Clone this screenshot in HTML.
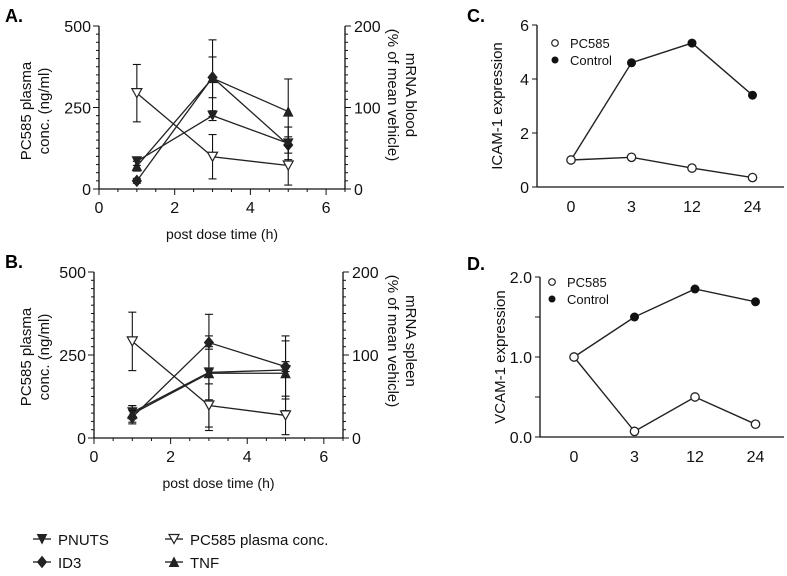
<!DOCTYPE html>
<html><head><meta charset="utf-8">
<style>
body{margin:0;background:#fff;}
svg{display:block;font-family:"Liberation Sans",Arial,sans-serif;}
</style></head>
<body>
<svg id="fig" width="787" height="576" viewBox="0 0 787 576" xmlns="http://www.w3.org/2000/svg">
<g id="static">
<text x="5" y="22" font-size="18" font-weight="bold">A.</text>
<text x="5" y="268" font-size="18" font-weight="bold">B.</text>
<text x="467" y="22" font-size="18" font-weight="bold">C.</text>
<text x="467" y="270" font-size="18" font-weight="bold">D.</text>
</g>
</svg>
<script>
// ---------- data ----------
var timesAB = [1, 3, 5];
var pcA = [294, 99, 72];        var pcAErr = [88, 68, 60];
var id3A = [10, 137, 54];       var id3AErr = [3, 25, 10];
var pnutsA = [34, 90, 56];      var pnutsAErr = [5, 6, 20];
var tnfA = [28, 136, 95];       var tnfAErr = [6, 47, 40];
var pcB = [291, 98, 68];        var pcBErr = [88, 65, 58];
var id3B = [25, 115, 86];       var id3BErr = [8, 8, 6];
var pnutsB = [31, 79, 82];      var pnutsBErr = [8, 70, 35];
var tnfB = [29, 78, 78];        var tnfBErr = [10, 32, 45];
var leftTicksAB = [0, 250, 500];
var rightTicksAB = [0, 100, 200];
var xTicksAB = [0, 2, 4, 6];
var catsCD = ["0", "3", "12", "24"];
var ctrlC = [1, 4.6, 5.33, 3.4];
var pcC = [1, 1.1, 0.7, 0.35];
var yTicksC = [0, 2, 4, 6];
var ctrlD = [1, 1.5, 1.85, 1.69];
var pcD = [1, 0.07, 0.5, 0.16];
var yTicksD = [0, 1, 2];
var yTickLabelsD = ["0.0", "1.0", "2.0"];

var NS = "http://www.w3.org/2000/svg";
var svg = document.getElementById("fig");
function mk(tag, attrs, parent){
  var e = document.createElementNS(NS, tag);
  for (var k in attrs) e.setAttribute(k, attrs[k]);
  (parent || svg).appendChild(e);
  return e;
}
function txt(x, y, s, size, anchor, parent, rot){
  var t = mk("text", {x:x, y:y, "font-size":size, "text-anchor":anchor||"middle", fill:"#111"}, parent);
  if (rot) t.setAttribute("transform", "rotate(" + rot + " " + x + " " + y + ")");
  t.textContent = s;
  return t;
}
function line(x1,y1,x2,y2,parent,w){
  return mk("line",{x1:x1,y1:y1,x2:x2,y2:y2,stroke:"#111","stroke-width":w||1.3},parent);
}
function marker(type, x, y, parent){
  var s = 4.5, m;
  if (type === "down") m = mk("polygon",{points:(x-s)+","+(y-s)+" "+(x+s)+","+(y-s)+" "+x+","+(y+s),fill:"#222",stroke:"#222"},parent);
  else if (type === "opendown") m = mk("polygon",{points:(x-s-0.5)+","+(y-s)+" "+(x+s+0.5)+","+(y-s)+" "+x+","+(y+s),fill:"#fff",stroke:"#222","stroke-width":1.2},parent);
  else if (type === "up") m = mk("polygon",{points:(x-s)+","+(y+s)+" "+(x+s)+","+(y+s)+" "+x+","+(y-s),fill:"#222",stroke:"#222"},parent);
  else if (type === "diamond") m = mk("polygon",{points:x+","+(y-s-1)+" "+(x+s)+","+y+" "+x+","+(y+s+1)+" "+(x-s)+","+y,fill:"#222",stroke:"#222"},parent);
  else if (type === "fcircle") m = mk("circle",{cx:x,cy:y,r:4.5,fill:"#111"},parent);
  else m = mk("circle",{cx:x,cy:y,r:4.2,fill:"#fff",stroke:"#222","stroke-width":1.3},parent);
  return m;
}

function panelAB(cfg){
  var g = mk("g",{});
  
  
  var xs = function(t){ return cfg.x0 + (t/6.5)*(cfg.x1-cfg.x0); };
  var yl = function(v){ return cfg.bot - (v/500)*(cfg.bot-cfg.top); };
  var yr = function(v){ return cfg.bot - (v/200)*(cfg.bot-cfg.top); };
  var ax = mk("g",{},g);
  
  
  line(cfg.x0, cfg.top, cfg.x0, cfg.bot, ax);
  line(cfg.x1, cfg.top, cfg.x1, cfg.bot, ax);
  line(cfg.x0, cfg.bot, cfg.x1, cfg.bot, ax);
  for (var v=0; v<=500; v+=25){ var big = leftTicksAB.indexOf(v)>=0; line(cfg.x0-(big?6:3), yl(v), cfg.x0, yl(v), ax, 1); }
  leftTicksAB.forEach(function(v){ txt(cfg.x0-8, yl(v)+6, String(v), 16, "end", ax); });
  for (var r=0; r<=200; r+=10){ var bg = rightTicksAB.indexOf(r)>=0; line(cfg.x1, yr(r), cfg.x1+(bg?6:3), yr(r), ax, 1); }
  rightTicksAB.forEach(function(v){ txt(cfg.x1+9, yr(v)+6, String(v), 16, "start", ax); });
  for (var t=0; t<=6.5; t+=0.5){ var mj = xTicksAB.indexOf(t)>=0; line(xs(t), cfg.bot, xs(t), cfg.bot+(mj?6:3), ax, 1); }
  xTicksAB.forEach(function(v){ txt(xs(v), cfg.bot+24, String(v), 16, "middle", ax); });
  var xt = txt((cfg.x0+cfg.x1)/2, cfg.bot+50, "post dose time (h)", 14, "middle", g);
  
  
  var cyl = cfg.top + 85, cyr = cfg.top + 69;
  var l1 = txt(31, cyl, "PC585 plasma", 15, "middle", g, -90);
  
  
  txt(49, cyl, "conc. (ng/ml)", 15, "middle", g, -90);
  var r1 = txt(406, cyr, cfg.rtitle, 15, "middle", g, 90);
  
  
  txt(388, cyr, "(% of mean vehicle)", 15, "middle", g, 90);
  cfg.series.forEach(function(s){
    var sg = mk("g",{},g);
    
    
    var ymap = s.left ? yl : yr;
    var pts = timesAB.map(function(t,i){ return xs(t)+","+ymap(s.vals[i]); }).join(" ");
    mk("polyline",{points:pts,fill:"none",stroke:"#222","stroke-width":1.3},sg);
    timesAB.forEach(function(t,i){
      var x = xs(t), lo = ymap(Math.max(0,s.vals[i]-s.err[i])), hi = ymap(s.vals[i]+s.err[i]);
      line(x, lo, x, hi, sg, 1.1); line(x-4, lo, x+4, lo, sg, 1.1); line(x-4, hi, x+4, hi, sg, 1.1);
    });
    timesAB.forEach(function(t,i){
      var m = marker(s.mk, xs(t), ymap(s.vals[i]), sg);
      
      
    });
  });
}

panelAB({name:"panel-a", x0:99, x1:345, top:26, bot:189, rtitle:"mRNA blood",
  series:[
    {id:"tnf", vals:tnfA, err:tnfAErr, mk:"up"},
    {id:"pnuts", vals:pnutsA, err:pnutsAErr, mk:"down"},
    {id:"id3", vals:id3A, err:id3AErr, mk:"diamond"},
    {id:"pc585", vals:pcA, err:pcAErr, mk:"opendown", left:true}
  ]});
panelAB({name:"panel-b", x0:94, x1:343, top:272, bot:438, rtitle:"mRNA spleen",
  series:[
    {id:"tnf", vals:tnfB, err:tnfBErr, mk:"up"},
    {id:"pnuts", vals:pnutsB, err:pnutsBErr, mk:"down"},
    {id:"id3", vals:id3B, err:id3BErr, mk:"diamond"},
    {id:"pc585", vals:pcB, err:pcBErr, mk:"opendown", left:true}
  ]});

function panelCD(cfg){
  var g = mk("g",{});
  
  
  var xc = function(i){ return cfg.xl + 34 + i*60.5; };
  var ys = function(v){ return cfg.bot - (v/cfg.ymax)*(cfg.bot-cfg.top); };
  var ax = mk("g",{},g);
  
  
  line(cfg.xl, cfg.top, cfg.xl, cfg.bot, ax);
  line(cfg.xl, cfg.bot, 784, cfg.bot, ax);
  cfg.ticks.forEach(function(v,i){ line(cfg.xl-5, ys(v), cfg.xl, ys(v), ax, 1); txt(cfg.xl-8, ys(v)+6, cfg.tlabels[i], 16, "end", ax); });
  if (cfg.minor) cfg.minor.forEach(function(v){ line(cfg.xl-5, ys(v), cfg.xl, ys(v), ax, 1); });
  catsCD.forEach(function(c,i){ txt(xc(i), cfg.bot+25, c, 16, "middle", ax); });
  var yt = txt(cfg.xl-35, (cfg.top+cfg.bot)/2, cfg.ytitle, 15, "middle", g, -90);
  
  
  [["control", cfg.ctrl, "fcircle"], ["pc585", cfg.pc, "ocircle"]].forEach(function(s){
    var sg = mk("g",{},g);
    
    
    mk("polyline",{points:s[1].map(function(v,i){return xc(i)+","+ys(v);}).join(" "),fill:"none",stroke:"#222","stroke-width":1.4},sg);
    s[1].forEach(function(v,i){
      var m = marker(s[2], xc(i), ys(v), sg);
      
      
    });
  });
  var lg = mk("g",{},g);
  
  
  mk("circle",{cx:cfg.lx, cy:cfg.ly, r:3.3, fill:"#fff", stroke:"#222","stroke-width":1.2}, lg);
  txt(cfg.lx+15, cfg.ly+5, "PC585", 13, "start", lg);
  mk("circle",{cx:cfg.lx, cy:cfg.ly+17, r:3.5, fill:"#111"}, lg);
  txt(cfg.lx+15, cfg.ly+22, "Control", 13, "start", lg);
}
panelCD({name:"panel-c", xl:537, top:25, bot:187, ymax:6, ticks:yTicksC, tlabels:["0","2","4","6"], ytitle:"ICAM-1 expression", ctrl:ctrlC, pc:pcC, lx:555, ly:43});
panelCD({name:"panel-d", xl:540, top:277, bot:437, ymax:2, ticks:yTicksD, tlabels:yTickLabelsD, minor:[0.5,1.5], ytitle:"VCAM-1 expression", ctrl:ctrlD, pc:pcD, lx:552, ly:282});

var leg = mk("g",{});


[["PNUTS","down",33,544],["ID3","diamond",33,567],["PC585 plasma conc.","opendown",165,544],["TNF","up",165,567]].forEach(function(e){
  var eg = mk("g",{},leg);
  
  
  line(e[2], e[3]-5, e[2]+18, e[3]-5, eg, 1.3);
  marker(e[1], e[2]+9, e[3]-5, eg);
  txt(e[2]+25, e[3]+1, e[0], 15, "start", eg);
});
</script>
</body></html>
